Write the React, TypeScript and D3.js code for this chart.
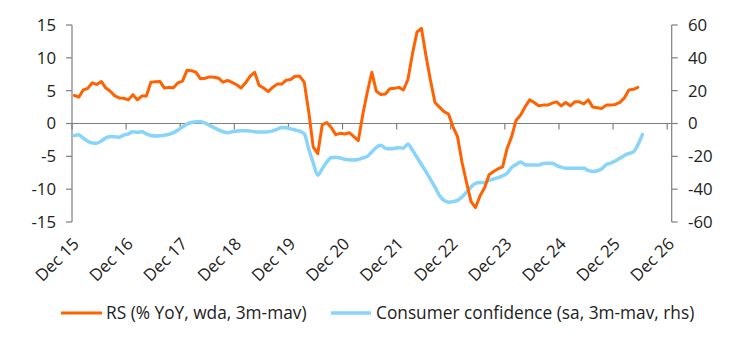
import React from "react";
import * as d3 from "d3";

const tickLabels = ["Dec 15","Dec 16","Dec 17","Dec 18","Dec 19","Dec 20","Dec 21","Dec 22","Dec 23","Dec 24","Dec 25","Dec 26"];
const leftTicks = [15, 10, 5, 0, -5, -10, -15];
const rightTicks = [60, 40, 20, 0, -20, -40, -60];
const nCategories = 133; // Dec 2015 .. Dec 2026 monthly

// RS (% YoY, wda, 3m-mav) monthly from Dec 2015
const rsValues = [
  4.3, 4.0, 5.1, 5.35, 6.2, 5.95, 6.4, 5.4, 4.9, 4.2, 3.9, 3.85,
  3.6, 4.4, 3.6, 4.2, 4.2, 6.3, 6.35, 6.4, 5.4, 5.5, 5.45, 6.2,
  6.45, 8.1, 8.05, 7.8, 6.8, 6.9, 7.1, 7.05, 6.9, 6.3, 6.55, 6.25,
  5.9, 5.4, 6.2, 7.2, 7.8, 5.8, 5.4, 4.85, 5.5, 6.0, 6.0, 6.6,
  6.7, 7.2, 7.2, 6.3, 1.8, -3.6, -4.6, -0.2, 0.15, -0.6, -1.7, -1.5,
  -1.6, -1.4, -2.0, -2.6, 1.4, 4.8, 7.8, 4.9, 4.4, 4.5, 5.3, 5.35,
  5.5, 5.1, 6.7, 10.6, 13.9, 14.5, 10.3, 6.6, 3.2, 2.5, 1.8, 1.45,
  -0.5, -2.0, -5.9, -9.0, -11.9, -12.8, -11.0, -9.8, -7.8, -7.3, -6.9, -6.6,
  -3.8, -2.0, 0.5, 1.3, 2.55, 3.6, 3.2, 2.7, 2.8, 2.8, 3.1, 3.3,
  2.7, 3.2, 2.7, 3.3, 3.3, 3.0, 3.6, 2.5, 2.4, 2.3, 2.8, 2.8,
  2.9, 3.2, 3.9, 5.1, 5.2, 5.5
];

// Consumer confidence (sa, 3m-mav, rhs) monthly from Dec 2015
const ccValues = [
  -7.4, -6.8, -9.0, -10.8, -11.9, -12.0, -10.6, -8.7, -8.1, -8.1, -8.3, -7.0,
  -6.4, -5.1, -5.4, -5.0, -6.3, -7.3, -7.6, -7.5, -7.2, -6.6, -5.6, -4.0,
  -2.1, -0.4, 0.6, 1.1, 1.1, 0.2, -1.1, -2.5, -3.9, -5.0, -5.6, -5.0,
  -4.5, -4.4, -4.4, -4.6, -5.0, -5.2, -5.2, -5.0, -4.5, -3.5, -2.4, -2.6,
  -3.3, -4.0, -4.7, -6.2, -15.5, -24.0, -31.5, -27.5, -23.5, -20.8, -20.6, -21.0,
  -21.8, -22.1, -22.2, -21.9, -21.0, -20.0, -17.3, -14.5, -13.2, -15.1, -15.4, -15.2,
  -14.7, -15.0, -12.5, -16.2, -20.6, -25.0, -29.3, -34.0, -38.8, -43.8, -46.8, -47.9,
  -47.6, -46.8, -44.8, -41.8, -38.6, -36.5, -35.9, -36.1, -34.7, -33.8, -33.0, -31.9,
  -30.3, -26.8, -25.0, -23.4, -25.1, -25.3, -25.3, -25.3, -24.3, -24.2, -24.2, -25.6,
  -26.6, -27.2, -27.3, -27.3, -27.3, -27.3, -28.5, -29.3, -28.8, -27.6, -25.0, -24.2,
  -22.8, -21.2, -19.5, -18.3, -17.3, -13.0, -6.8
];

const seriesNames = ["RS (% YoY, wda, 3m-mav)", "Consumer confidence (sa, 3m-mav, rhs)"];
const ORANGE = "#FF6200";
const BLUE = "#89D4FA";
const AXIS = "#7F7F7F";
const TEXT = "#222";
const FONT = "'Open Sans', 'Liberation Sans', Arial, sans-serif";
const FS = 16.8;
const LFS = 17.3;

export default function App() {
  const W = 744, H = 344;
  const x = d3.scaleLinear().domain([0, nCategories]).range([72, 671.7]);
  const yL = d3.scaleLinear().domain([-15, 15]).range([222, 25]);
  const yR = d3.scaleLinear().domain([-60, 60]).range([222, 25]);

  const rsLine = d3.line<number>()
    .x((_, i) => x(i + 0.5))
    .y((d) => yL(d))
    .curve(d3.curveLinear);
  const ccLine = d3.line<number>()
    .x((_, i) => x(i + 0.5))
    .y((d) => yR(d))
    .curve(d3.curveMonotoneX);

  const xTickIdx = tickLabels.map((_, k) => k * 12);

  return (
    <svg width={W} height={H} style={{ position: "absolute", left: 0, top: 0, background: "#fff" }} fontFamily={FONT}>
      <line x1={x(0)} x2={x(nCategories)} y1={yL(0)} y2={yL(0)} stroke={AXIS} strokeWidth={1.2} />
      {xTickIdx.map((t) => (
        <line key={"xt" + t} x1={x(t)} x2={x(t)} y1={yL(0)} y2={yL(0) + 6} stroke={AXIS} strokeWidth={1.2} />
      ))}
      <line x1={x(0)} x2={x(0)} y1={yL(15)} y2={yL(-15)} stroke={AXIS} strokeWidth={1.2} />
      {leftTicks.map((t) => (
        <g key={"lt" + t}>
          <line x1={x(0) - 6} x2={x(0)} y1={yL(t)} y2={yL(t)} stroke={AXIS} strokeWidth={1.2} />
          <text x={56} y={yL(t)} dy="0.35em" textAnchor="end" fontSize={FS} fill={TEXT}>{t}</text>
        </g>
      ))}
      <line x1={x(nCategories)} x2={x(nCategories)} y1={yR(60)} y2={yR(-60)} stroke={AXIS} strokeWidth={1.2} />
      {rightTicks.map((t) => (
        <g key={"rt" + t}>
          <line x1={x(nCategories)} x2={x(nCategories) + 6} y1={yR(t)} y2={yR(t)} stroke={AXIS} strokeWidth={1.2} />
          <text x={688} y={yR(t)} dy="0.35em" textAnchor="start" fontSize={FS} fill={TEXT}>{t}</text>
        </g>
      ))}
      {xTickIdx.map((t, k) => (
        <text key={"xl" + t} transform={`translate(${x(t) + 8},245) rotate(-45)`} textAnchor="end" fontSize={FS} fill={TEXT}>
          {tickLabels[k]}
        </text>
      ))}
      <path d={ccLine(ccValues) || ""} fill="none" stroke={BLUE} strokeWidth={3.5} strokeLinejoin="round" strokeLinecap="round" />
      <path d={rsLine(rsValues) || ""} fill="none" stroke={ORANGE} strokeWidth={3} strokeLinejoin="round" strokeLinecap="round" />
      <line x1={61} x2={102} y1={313} y2={313} stroke={ORANGE} strokeWidth={3} />
      <text x={106} y={313} dy="0.35em" fontSize={LFS} fill={TEXT}>{seriesNames[0]}</text>
      <line x1={331} x2={371} y1={313} y2={313} stroke={BLUE} strokeWidth={3.5} />
      <text x={376} y={313} dy="0.35em" fontSize={LFS} fill={TEXT}>{seriesNames[1]}</text>
    </svg>
  );
}
